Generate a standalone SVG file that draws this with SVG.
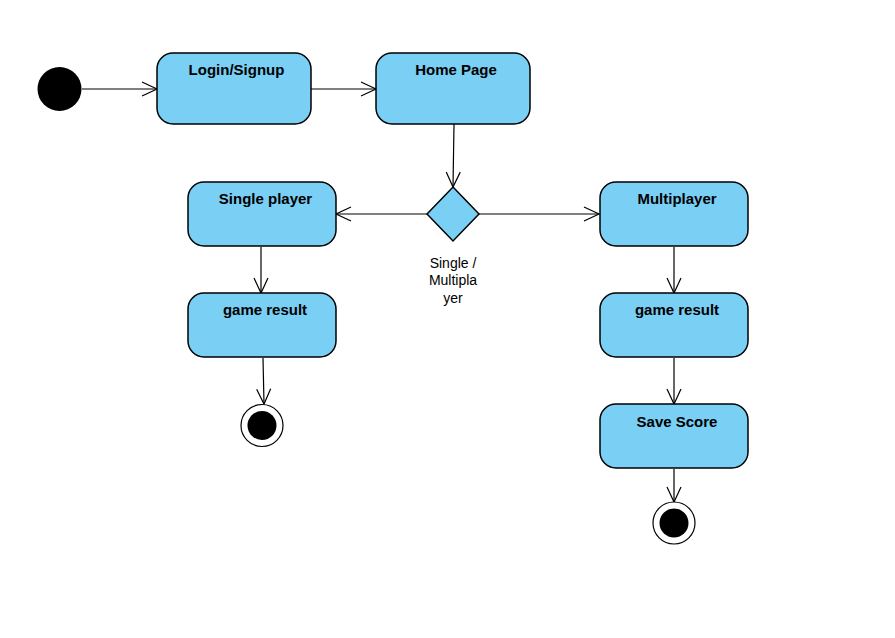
<svg xmlns="http://www.w3.org/2000/svg" width="895" height="638" viewBox="0 0 895 638">
<defs>
<style>
.box{fill:#79cff4;stroke:#000;stroke-width:1.5}
.t{font-family:"Liberation Sans",Arial,sans-serif;font-size:15px;font-weight:bold;fill:#000;text-anchor:middle}
.l{font-family:"Liberation Sans",Arial,sans-serif;font-size:14px;fill:#000;text-anchor:middle}
.c{fill:none;stroke:#000;stroke-width:1.2}
</style>
<marker id="a" markerWidth="18" markerHeight="16" refX="16" refY="8" orient="auto" markerUnits="userSpaceOnUse">
<path d="M1,1 L16,8 L1,15" fill="none" stroke="#000" stroke-width="1.2"/>
</marker>
</defs>
<rect width="895" height="638" fill="#fff"/>
<g id="connectors">
<path class="c" d="M82,89 L157,89" marker-end="url(#a)"/>
<path class="c" d="M311,89 L376,89" marker-end="url(#a)"/>
<path class="c" d="M454,124 L453,187" marker-end="url(#a)"/>
<path class="c" d="M427,214 L336,214" marker-end="url(#a)"/>
<path class="c" d="M479,214 L599,214" marker-end="url(#a)"/>
<path class="c" d="M261,247 L261,293" marker-end="url(#a)"/>
<path class="c" d="M263,358 L264,404" marker-end="url(#a)"/>
<path class="c" d="M674,247 L674,293" marker-end="url(#a)"/>
<path class="c" d="M674,358 L674,404" marker-end="url(#a)"/>
<path class="c" d="M674,469 L674,502" marker-end="url(#a)"/>
</g>
<g id="start"><circle cx="59.5" cy="89" r="22" fill="#000"/></g>
<g id="login"><rect class="box" x="157" y="53" width="154" height="71" rx="16"/><text class="t" x="236.5" y="75">Login/Signup</text></g>
<g id="home"><rect class="box" x="376" y="53" width="154" height="71" rx="16"/><text class="t" x="456" y="75">Home Page</text></g>
<g id="decision"><path class="box" d="M453,187 L479,214 L453,241 L427,214 Z"/>
<text class="l" x="453" y="268">Single /</text><text class="l" x="453" y="285">Multipla</text><text class="l" x="453" y="303">yer</text></g>
<g id="single"><rect class="box" x="188" y="182" width="148" height="64" rx="16"/><text class="t" x="265.5" y="204">Single player</text></g>
<g id="multi"><rect class="box" x="600" y="182" width="148" height="64" rx="16"/><text class="t" x="677" y="204">Multiplayer</text></g>
<g id="result1"><rect class="box" x="188" y="293" width="148" height="64" rx="16"/><text class="t" x="265" y="315">game result</text></g>
<g id="result2"><rect class="box" x="600" y="293" width="148" height="64" rx="16"/><text class="t" x="677" y="315">game result</text></g>
<g id="save"><rect class="box" x="600" y="404" width="148" height="64" rx="16"/><text class="t" x="677" y="427">Save Score</text></g>
<g id="end1"><circle cx="262" cy="425.5" r="21" fill="#fff" stroke="#000" stroke-width="1.2"/><circle cx="262" cy="425.5" r="14.5" fill="#000"/></g>
<g id="end2"><circle cx="674" cy="523" r="21" fill="#fff" stroke="#000" stroke-width="1.2"/><circle cx="674" cy="523" r="14.5" fill="#000"/></g>
</svg>
